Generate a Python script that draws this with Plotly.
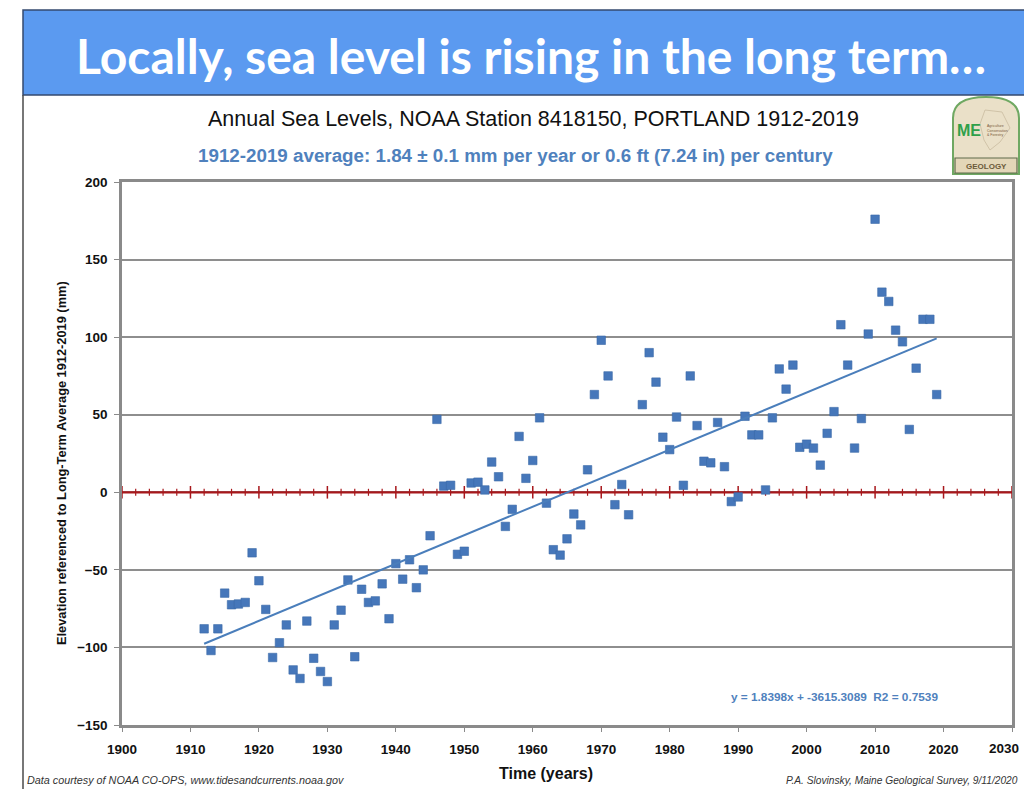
import plotly.graph_objects as go

# Annual mean sea level at Portland, Maine (mm, relative to the 1912-2019 mean)
years = [
    1912, 1913, 1914, 1915, 1916, 1917, 1918, 1919, 1920, 1921,
    1922, 1923, 1924, 1925, 1926, 1927, 1928, 1929, 1930, 1931,
    1932, 1933, 1934, 1935, 1936, 1937, 1938, 1939, 1940, 1941,
    1942, 1943, 1944, 1945, 1946, 1947, 1948, 1949, 1950, 1951,
    1952, 1953, 1954, 1955, 1956, 1957, 1958, 1959, 1960, 1961,
    1962, 1963, 1964, 1965, 1966, 1967, 1968, 1969, 1970, 1971,
    1972, 1973, 1974, 1976, 1977, 1978, 1979, 1980, 1981, 1982,
    1983, 1984, 1985, 1986, 1987, 1988, 1989, 1990, 1991, 1992,
    1993, 1994, 1995, 1996, 1997, 1998, 1999, 2000, 2001, 2002,
    2003, 2004, 2005, 2006, 2007, 2008, 2009, 2010, 2011, 2012,
    2013, 2014, 2015, 2016, 2017, 2018, 2019,
]
sea_level_mm = [
    -88, -102, -88, -65, -72.5, -72, -71, -39, -57, -75.5,
    -106.5, -97, -85.5, -114.5, -120, -83, -107, -115.5, -122, -85.5,
    -76, -56.5, -106, -62.5, -71, -70, -59, -81.5, -46, -56,
    -43.5, -61.5, -50, -28, 47, 4, 4.5, -40, -38, 6,
    6.5, 1.5, 19.5, 10, -22, -11, 36, 9, 20.5, 48,
    -7, -37, -40.5, -30, -14, -21, 14.5, 63, 98, 75,
    -8, 5, -14.5, 56.5, 90, 71, 35.5, 27.5, 48.5, 4.5,
    75, 43, 20, 19, 45, 16.5, -6, -3, 49, 37,
    37, 1.5, 48, 79.5, 66.5, 82, 29, 31, 28.5, 17.5,
    38, 52, 108, 82, 28.5, 47.5, 102, 176, 129, 123,
    104.5, 97, 40.5, 80, 111.5, 111.5, 63,
]

# Linear fit reported on the chart
slope = 1.8398
intercept = -3615.3089
r_squared = 0.7539

x_tick_years = list(range(1900, 2031, 10))
y_tick_values = list(range(-150, 201, 50))

# ---- page geometry (pixels) ----
W, H = 1024, 789
PL, PR, PT, PB = 122, 1012, 182, 725  # plot area edges


def px(x):
    return (x - PL) / (PR - PL)


def py(y):
    return (PB - y) / (PB - PT)


POINT_BLUE = "#4677BA"
TEXT_BLUE = "#4F81BD"
ZERO_RED = "#A8181C"
GRID = "#8E8E8E"
FONT = "Liberation Sans"
TICK_FONT = dict(family=FONT, size=13.5, color="#111111", weight="bold")

fig = go.Figure()

# zero reference line with small tick marks every 2 years, larger each decade
fig.add_trace(go.Scatter(
    x=[1900, 2030], y=[0, 0], mode="lines",
    line=dict(color=ZERO_RED, width=2.2), hoverinfo="skip", showlegend=False,
))
minor_years = [yr for yr in range(1900, 2031, 2) if yr % 10 != 0]
fig.add_trace(go.Scatter(
    x=minor_years, y=[0] * len(minor_years), mode="markers",
    marker=dict(symbol="line-ns", size=5, line=dict(color=ZERO_RED, width=1.2)),
    hoverinfo="skip", showlegend=False,
))
fig.add_trace(go.Scatter(
    x=x_tick_years, y=[0] * len(x_tick_years), mode="markers",
    marker=dict(symbol="line-ns", size=9, line=dict(color=ZERO_RED, width=1.5)),
    hoverinfo="skip", showlegend=False,
))

# observations
fig.add_trace(go.Scatter(
    x=years, y=sea_level_mm, mode="markers",
    marker=dict(symbol="square", size=8.5, color=POINT_BLUE,
                line=dict(color="#3B69A8", width=0.6)),
    showlegend=False,
))

# trend line from the fitted coefficients
x_fit = [min(years), max(years)]
y_fit = [slope * v + intercept for v in x_fit]
fig.add_trace(go.Scatter(
    x=x_fit, y=y_fit, mode="lines",
    line=dict(color="#4A7EBB", width=2), showlegend=False,
))

shapes = []
annotations = []

# title banner
shapes.append(dict(
    type="rect", xref="paper", yref="paper",
    x0=px(23), x1=px(1030), y0=py(95), y1=py(10),
    fillcolor="#5B9AF0", line=dict(color="#34496F", width=1.5), layer="below",
))
# left frame edge of the slide
shapes.append(dict(
    type="line", xref="paper", yref="paper",
    x0=px(23), x1=px(23), y0=py(95), y1=py(800),
    line=dict(color="#4A4A4A", width=1.5),
))
annotations.append(dict(
    xref="paper", yref="paper", x=px(531), y=py(55),
    text="Locally, sea level is rising in the long term\u2026",
    showarrow=False, xanchor="center", yanchor="middle",
    font=dict(family="Lato", size=48, color="white", weight="bold"),
))

# chart titles
annotations.append(dict(
    xref="paper", yref="paper", x=px(533), y=py(119),
    text="Annual Sea Levels, NOAA Station 8418150, PORTLAND 1912-2019",
    showarrow=False, xanchor="center", yanchor="middle",
    font=dict(family=FONT, size=21.5, color="#111111"),
))
annotations.append(dict(
    xref="paper", yref="paper", x=px(515), y=py(156),
    text="1912-2019 average: 1.84 \u00b1 0.1 mm per year or 0.6 ft (7.24 in) per century",
    showarrow=False, xanchor="center", yanchor="middle",
    font=dict(family=FONT, size=18.8, color=TEXT_BLUE, weight="bold"),
))

# axis titles
annotations.append(dict(
    xref="paper", yref="paper", x=px(546), y=py(773),
    text="Time (years)", showarrow=False, xanchor="center", yanchor="middle",
    font=dict(family=FONT, size=16, color="#111111", weight="bold"),
))
annotations.append(dict(
    xref="paper", yref="paper", x=px(61), y=py(463),
    text="Elevation referenced to Long-Term Average 1912-2019 (mm)",
    textangle=-90, showarrow=False, xanchor="center", yanchor="middle",
    font=dict(family=FONT, size=12.8, color="#111111", weight="bold"),
))

# the last year label sits at the page edge, so it is right-aligned there
x_tick_text = [str(v) for v in x_tick_years]
last_label = x_tick_text[-1]
x_tick_text[-1] = ""
annotations.append(dict(
    xref="paper", yref="paper", x=px(1021), y=py(748),
    text=last_label, showarrow=False, xanchor="right", yanchor="middle",
    font=TICK_FONT,
))

# regression equation
annotations.append(dict(
    xref="paper", yref="paper", x=px(940), y=py(697),
    text=f"y = {slope}x + {intercept}  R2 = {r_squared}",
    showarrow=False, xanchor="right", yanchor="middle",
    font=dict(family=FONT, size=11.8, color=TEXT_BLUE, weight="bold"),
))

# credits
annotations.append(dict(
    xref="paper", yref="paper", x=px(25), y=py(780),
    text="Data courtesy of NOAA CO-OPS, www.tidesandcurrents.noaa.gov",
    showarrow=False, xanchor="left", yanchor="middle",
    font=dict(family=FONT, size=10.8, color="#333333", style="italic"),
))
annotations.append(dict(
    xref="paper", yref="paper", x=px(1020), y=py(780),
    text="P.A. Slovinsky, Maine Geological Survey, 9/11/2020",
    showarrow=False, xanchor="right", yanchor="middle",
    font=dict(family=FONT, size=10.2, color="#333333", style="italic"),
))

# Maine Geological Survey badge
lx0, lx1, ly_top = px(953), px(1019), py(97)
arch_mid = py(118)
shapes.append(dict(
    type="path", xref="paper", yref="paper",
    path=(f"M {lx0} {py(174)} L {lx0} {arch_mid} "
          f"Q {lx0} {ly_top} {(lx0 + lx1) / 2} {ly_top} "
          f"Q {lx1} {ly_top} {lx1} {arch_mid} L {lx1} {py(174)} Z"),
    fillcolor="#EAE0C8", line=dict(color="#6FA862", width=2),
))
shapes.append(dict(
    type="rect", xref="paper", yref="paper",
    x0=px(955), x1=px(1017), y0=py(173), y1=py(158),
    fillcolor="#E3D6B8", line=dict(color="#5E6B4A", width=1.2),
))
shapes.append(dict(
    type="path", xref="paper", yref="paper",
    path=(f"M {px(985)} {py(110)} L {px(1002)} {py(112)} L {px(1010)} {py(128)} "
          f"L {px(1000)} {py(142)} L {px(990)} {py(150)} L {px(984)} {py(140)} "
          f"L {px(980)} {py(124)} Z"),
    line=dict(color="#C9BBA0", width=0.8),
))
annotations.append(dict(
    xref="paper", yref="paper", x=px(969), y=py(130),
    text="ME", showarrow=False, xanchor="center", yanchor="middle",
    font=dict(family=FONT, size=16, color="#2FA04A", weight="bold"),
))
annotations.append(dict(
    xref="paper", yref="paper", x=px(986), y=py(166),
    text="GEOLOGY", showarrow=False, xanchor="center", yanchor="middle",
    font=dict(family=FONT, size=8, color="#6B5A3A", weight="bold"),
))
annotations.append(dict(
    xref="paper", yref="paper", x=px(997), y=py(130),
    text="Agriculture<br>Conservation<br>& Forestry", showarrow=False,
    xanchor="center", yanchor="middle", align="left",
    font=dict(family=FONT, size=3.5, color="#7A5A3A"),
))

fig.update_layout(
    width=W, height=H,
    margin=dict(l=PL, r=W - PR, t=PT, b=H - PB, pad=0, autoexpand=False),
    paper_bgcolor="white", plot_bgcolor="white",
    shapes=shapes, annotations=annotations,
    font=dict(family=FONT, color="#111111"),
    xaxis=dict(
        range=[1900, 2030], tickvals=x_tick_years,
        ticktext=x_tick_text,
        showgrid=False, zeroline=False, automargin=False,
        showline=True, linecolor="#8A8A8A", linewidth=2.5, mirror=True,
        ticks="outside", ticklen=4, tickcolor="#8A8A8A", ticklabelstandoff=6,
        tickfont=TICK_FONT,
    ),
    yaxis=dict(
        range=[-150, 200], tickvals=y_tick_values,
        showgrid=True, gridcolor=GRID, gridwidth=1.5, zeroline=False,
        showline=True, linecolor="#8A8A8A", linewidth=2.5, mirror=True,
        automargin=False,
        ticks="outside", ticklen=5, tickcolor="#8A8A8A", ticklabelstandoff=4,
        tickfont=TICK_FONT,
    ),
)

fig.write_html("out.html")
